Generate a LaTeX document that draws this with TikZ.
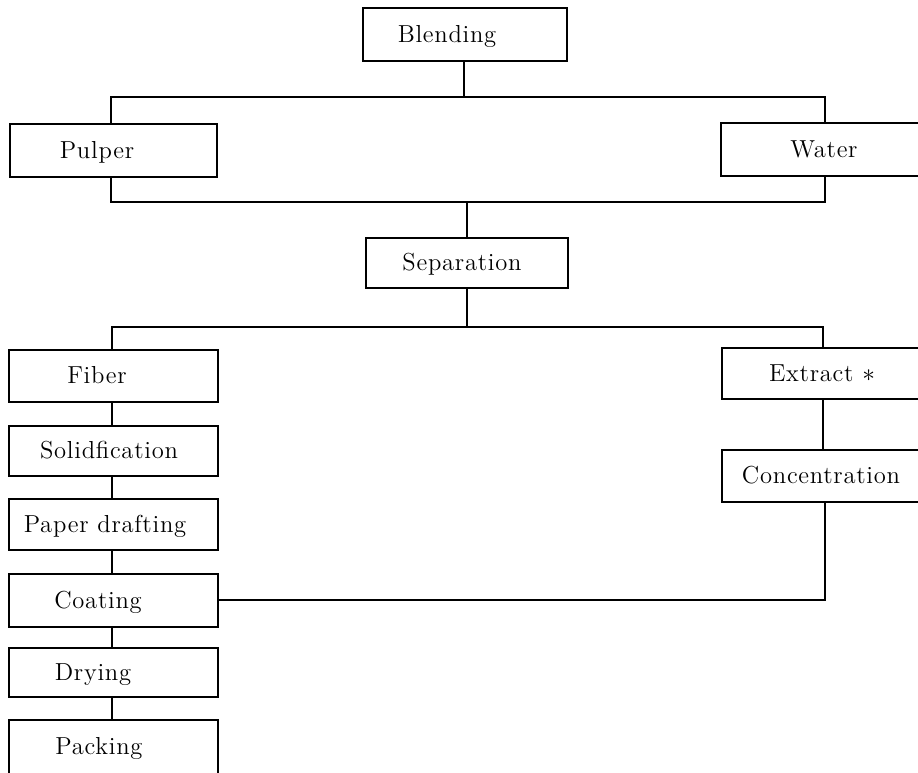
\documentclass[tikz,border=0pt]{standalone}
\usepackage{fontspec}
\setmainfont{Latin Modern Roman}[LetterSpace=3]
\usetikzlibrary{fit}
\begin{document}
\begin{tikzpicture}[x=0.02cm,y=-0.02cm,
  box/.style={draw, line width=0.65pt, inner sep=0pt, rectangle},
  lbl/.style={font=\fontsize{14}{16}\selectfont, anchor=base, inner sep=0pt},
  conn/.style={line width=0.65pt}]
\useasboundingbox (0,0) rectangle (918,772);
\clip (0,0) rectangle (918,772);
% boxes
\node[box, fit={(363,8)(567,61)}] (blend) {};
\node[box, fit={(10,124)(217,177)}] (pulper) {};
\node[box, fit={(721,123)(940,176)}] (water) {};
\node[box, fit={(366,238)(568,288)}] (sep) {};
\node[box, fit={(9,350)(218,402)}] (fiber) {};
\node[box, fit={(9,426)(218,476)}] (solid) {};
\node[box, fit={(9,499)(218,550)}] (paper) {};
\node[box, fit={(9,574)(218,627)}] (coat) {};
\node[box, fit={(9,648)(218,697)}] (dry) {};
\node[box, fit={(9,720)(218,800)}] (pack) {};
\node[box, fit={(722,348)(940,399)}] (extract) {};
\node[box, fit={(722,450)(940,502)}] (conc) {};
% labels
\node[lbl] (tblend) at (447,42) {Blending};
\node[lbl] (tpulper) at (97,158) {Pulper};
\node[lbl] (twater) at (824,157) {Water};
\node[lbl] (tsep) at (462,270) {Separation};
\node[lbl] (tfiber) at (97,383) {Fiber};
\node[lbl] (tsolid) at (109,458) {Solidfication};
\node[lbl] (tpaper) at (105,532) {Paper drafting};
\node[lbl] (tcoat) at (98,608) {Coating};
\node[lbl] (tdry) at (93,680) {Drying};
\node[lbl] (tpack) at (99,754) {Packing};
\node[lbl] (textract) at (822,381) {Extract $\ast$};
\node[lbl] (tconc) at (821,483) {Concentration};
% bus coordinates
\coordinate (b1) at (111,97);
\coordinate (b2) at (825,97);
\coordinate (c1) at (111,202);
\coordinate (c2) at (825,202);
\coordinate (d1) at (112,327);
\coordinate (d2) at (823,327);
\coordinate (e2) at (825,600);
% connectors
\draw[conn] (blend.south -| 464,0) -- (b1 -| 464,0);
\draw[conn] (pulper.north -| b1) -- (b1) -- (b2) -- (water.north -| b2);
\draw[conn] (pulper.south -| c1) -- (c1) -- (c2) -- (water.south -| c2);
\draw[conn] (c1 -| sep.north) -- (sep.north);
\draw[conn] (sep.south) -- (d1 -| sep.south);
\draw[conn] (fiber.north -| d1) -- (d1) -- (d2) -- (extract.north -| d2);
\draw[conn] (fiber.south -| d1) -- (solid.north -| d1);
\draw[conn] (solid.south -| d1) -- (paper.north -| d1);
\draw[conn] (paper.south -| d1) -- (coat.north -| d1);
\draw[conn] (coat.south -| d1) -- (dry.north -| d1);
\draw[conn] (dry.south -| d1) -- (pack.north -| d1);
\draw[conn] (extract.south -| d2) -- (conc.north -| d2);
\draw[conn] (conc.south -| e2) -- (e2) -- (coat.east |- e2);
\end{tikzpicture}
\end{document}
